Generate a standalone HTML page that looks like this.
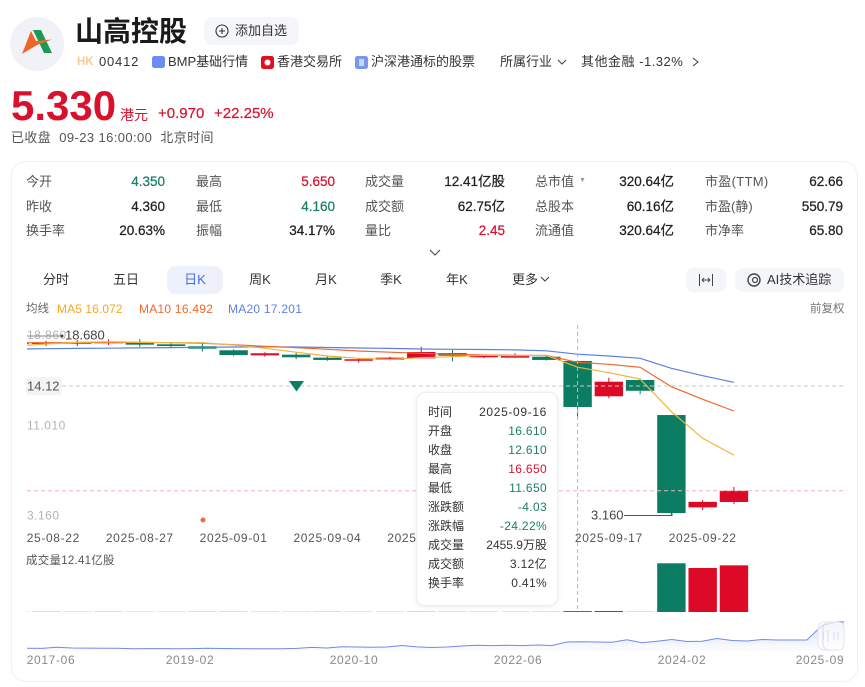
<!DOCTYPE html>
<html lang="zh">
<head>
<meta charset="utf-8">
<title>山高控股</title>
<style>
html,body{margin:0;padding:0;background:#fff;}
#page{position:relative;width:865px;height:687px;overflow:hidden;background:#fff;font-family:"Liberation Sans","Noto Sans CJK SC",sans-serif;color:#222;filter:blur(.3px);}
.t{position:absolute;white-space:nowrap;line-height:20px;height:20px;}
.r{text-align:right;}
.lb{font-size:13px;color:#555;}
.v{font-size:13.5px;color:#222;-webkit-text-stroke:.25px currentColor;}
.tab{font-size:13px;color:#333;text-align:center;transform:translateX(-50%);}
.tl{font-size:12px;color:#333;left:428px;}
.tv{font-size:12px;color:#333;right:318px;text-align:right;letter-spacing:.35px;}
.up{color:#d9112f;}
.dn{color:#1a7f68;}
#chart{position:absolute;left:0;top:0;}
</style>
</head>
<body>
<div id="page">

<svg style="position:absolute;left:0;top:0" width="865" height="90">
  <circle cx="37" cy="44" r="27" fill="#f0f2f7"/>
  <polygon points="33,30 41,30 52,53 44,53" fill="#1c9a55"/>
  <polygon points="31,31 36,41 52,39.5 37,45 22,54" fill="#f0642a"/>
  <rect x="204" y="17" width="95" height="28" rx="8" fill="#f5f6fa"/>
  <circle cx="222" cy="31" r="6" fill="none" stroke="#333" stroke-width="1.1"/>
  <path d="M219 31h6M222 28v6" stroke="#333" stroke-width="1.1"/>
  <rect x="152" y="56" width="13" height="12" rx="2.5" fill="#6b8cf0"/>
  <rect x="261" y="56" width="13" height="13" rx="2.5" fill="#e0101f"/>
  <circle cx="267.500" cy="62.500" r="3" fill="#fff"/>
  <rect x="355" y="56" width="13" height="13" rx="2.5" fill="#7b96ee"/>
  <rect x="359" y="59" width="5" height="7" fill="#c9d6fa"/>
  <path d="M558 60l4 4 4-4" fill="none" stroke="#444" stroke-width="1.1"/>
  <path d="M693 58l5 4-5 4" fill="none" stroke="#444" stroke-width="1.1"/>
</svg>

<div class="t" style="left:75px;top:12px;height:40px;line-height:40px;font-size:28px;font-weight:bold;color:#1a1a1a">山高控股</div>
<div class="t" style="left:235px;top:21px;font-size:13px;color:#333">添加自选</div>
<div class="t" style="left:77px;top:52px;font-size:11.5px;font-weight:bold;color:#f5cd93">HK</div>
<div class="t" style="left:99px;top:52px;font-size:13px;color:#333;letter-spacing:.8px">00412</div>
<div class="t" style="left:168px;top:52px;font-size:13px;color:#333">BMP基础行情</div>
<div class="t" style="left:277px;top:52px;font-size:13px;color:#333">香港交易所</div>
<div class="t" style="left:371px;top:52px;font-size:13px;color:#333">沪深港通标的股票</div>
<div class="t" style="left:500px;top:52px;font-size:13px;color:#333">所属行业</div>
<div class="t" style="left:581px;top:52px;font-size:13px;color:#333;letter-spacing:.5px">其他金融 -1.32%</div>

<div class="t up" style="left:11px;top:81px;height:50px;line-height:50px;font-size:42px;font-weight:bold">5.330</div>
<div class="t up" style="left:120px;top:105px;font-size:14px">港元</div>
<div class="t up" style="left:158px;top:104px;font-size:15px;-webkit-text-stroke:.2px currentColor">+0.970</div>
<div class="t up" style="left:214px;top:104px;font-size:15px;-webkit-text-stroke:.2px currentColor">+22.25%</div>
<div class="t" style="left:11px;top:128px;font-size:13px;color:#555;letter-spacing:.4px">已收盘&nbsp; 09-23 16:00:00&nbsp; 北京时间</div>

<div style="position:absolute;left:11px;top:161px;width:847px;height:521px;border:1px solid #f0f0f3;border-radius:15px;box-sizing:border-box"></div>

<div class="t lb" style="left:26px;top:172px">今开</div>
<div class="t v dn r" style="right:700px;top:172px">4.350</div>
<div class="t lb" style="left:26px;top:197px">昨收</div>
<div class="t v r" style="right:700px;top:197px">4.360</div>
<div class="t lb" style="left:26px;top:221px">换手率</div>
<div class="t v r" style="right:700px;top:221px">20.63%</div>

<div class="t lb" style="left:196px;top:172px">最高</div>
<div class="t v up r" style="right:530px;top:172px">5.650</div>
<div class="t lb" style="left:196px;top:197px">最低</div>
<div class="t v dn r" style="right:530px;top:197px">4.160</div>
<div class="t lb" style="left:196px;top:221px">振幅</div>
<div class="t v r" style="right:530px;top:221px">34.17%</div>

<div class="t lb" style="left:365px;top:172px">成交量</div>
<div class="t v r" style="right:360px;top:172px">12.41亿股</div>
<div class="t lb" style="left:365px;top:197px">成交额</div>
<div class="t v r" style="right:360px;top:197px">62.75亿</div>
<div class="t lb" style="left:365px;top:221px">量比</div>
<div class="t v up r" style="right:360px;top:221px">2.45</div>

<div class="t lb" style="left:535px;top:172px">总市值</div>
<div class="t" style="left:579px;top:171px;font-size:7px;color:#999">▼</div>
<div class="t v r" style="right:191px;top:172px">320.64亿</div>
<div class="t lb" style="left:535px;top:197px">总股本</div>
<div class="t v r" style="right:191px;top:197px">60.16亿</div>
<div class="t lb" style="left:535px;top:221px">流通值</div>
<div class="t v r" style="right:191px;top:221px">320.64亿</div>

<div class="t lb" style="left:705px;top:172px;letter-spacing:.3px">市盈(TTM)</div>
<div class="t v r" style="right:22px;top:172px">62.66</div>
<div class="t lb" style="left:705px;top:197px">市盈(静)</div>
<div class="t v r" style="right:22px;top:197px">550.79</div>
<div class="t lb" style="left:705px;top:221px">市净率</div>
<div class="t v r" style="right:22px;top:221px">65.80</div>

<svg style="position:absolute;left:0;top:240px" width="865" height="60">
  <path d="M430 10l5 5 5-5" fill="none" stroke="#444" stroke-width="1.1"/>
  <rect x="167" y="26" width="56" height="28" rx="9" fill="#eef1fb"/>
  <path d="M541 37l4 4 4-4" fill="none" stroke="#444" stroke-width="1.1"/>
  <rect x="686" y="28" width="40" height="24" rx="7" fill="#f5f6fa"/>
  <path d="M699.500 34v12M712.500 34v12M702 40h8M702 40l2-2M702 40l2 2M710 40l-2-2M710 40l-2 2" fill="none" stroke="#444" stroke-width="1"/>
  <rect x="735" y="28" width="109" height="24" rx="8" fill="#f5f6fa"/>
  <circle cx="754" cy="40" r="6" fill="none" stroke="#444" stroke-width="1.4"/>
  <circle cx="755" cy="40" r="2.500" fill="none" stroke="#444" stroke-width="1.2"/>
</svg>

<div class="t tab" style="left:56px;top:270px">分时</div>
<div class="t tab" style="left:126px;top:270px">五日</div>
<div class="t tab" style="left:195px;top:270px;color:#4a6ee0">日K</div>
<div class="t tab" style="left:260px;top:270px">周K</div>
<div class="t tab" style="left:326px;top:270px">月K</div>
<div class="t tab" style="left:391px;top:270px">季K</div>
<div class="t tab" style="left:457px;top:270px">年K</div>
<div class="t tab" style="left:525px;top:270px">更多</div>
<div class="t" style="left:767px;top:270px;font-size:13px;color:#333">AI技术追踪</div>

<div class="t" style="left:26px;top:299px;font-size:11.5px;color:#666">均线</div>
<div class="t" style="left:57px;top:299px;font-size:12px;color:#f5a623;letter-spacing:.1px">MA5 16.072</div>
<div class="t" style="left:139px;top:299px;font-size:12px;color:#f0682c;letter-spacing:.25px">MA10 16.492</div>
<div class="t" style="left:228px;top:299px;font-size:12px;color:#5b7fe8;letter-spacing:.25px">MA20 17.201</div>
<div class="t" style="left:810px;top:299px;font-size:11.5px;color:#777">前复权</div>

<svg id="chart" width="865" height="687"></svg>

<div style="position:absolute;left:416px;top:392px;width:142px;height:214px;background:#fff;border:1px solid #eeeeee;border-radius:9px;box-shadow:0 1px 5px rgba(0,0,0,.08);box-sizing:border-box"></div>
<div class="t tl" style="top:402px">时间</div>
<div class="t tv" style="top:402px;letter-spacing:.65px">2025-09-16</div>
<div class="t tl" style="top:421px">开盘</div>
<div class="t tv dn" style="top:421px">16.610</div>
<div class="t tl" style="top:440px">收盘</div>
<div class="t tv dn" style="top:440px">12.610</div>
<div class="t tl" style="top:459px">最高</div>
<div class="t tv up" style="top:459px">16.650</div>
<div class="t tl" style="top:478px">最低</div>
<div class="t tv dn" style="top:478px">11.650</div>
<div class="t tl" style="top:497px">涨跌额</div>
<div class="t tv dn" style="top:497px">-4.03</div>
<div class="t tl" style="top:516px">涨跌幅</div>
<div class="t tv dn" style="top:516px">-24.22%</div>
<div class="t tl" style="top:535px">成交量</div>
<div class="t tv" style="top:535px;letter-spacing:0">2455.9万股</div>
<div class="t tl" style="top:554px">成交额</div>
<div class="t tv" style="top:554px">3.12亿</div>
<div class="t tl" style="top:573px">换手率</div>
<div class="t tv" style="top:573px">0.41%</div>
</div>

<script>
const dates = ["2025-08-21","2025-08-22","2025-08-25","2025-08-26","2025-08-27","2025-08-28","2025-08-29","2025-09-01","2025-09-02","2025-09-03","2025-09-04","2025-09-05","2025-09-08","2025-09-09","2025-09-10","2025-09-11","2025-09-12","2025-09-15","2025-09-16","2025-09-17","2025-09-18","2025-09-19","2025-09-22","2025-09-23"];
const opens  = [18.10,18.09,18.11,18.15,18.20,18.06,17.89,17.54,17.10,17.16,16.90,16.63,16.72,16.84,17.30,16.93,16.90,16.98,16.61,13.54,14.96,11.91,3.88,4.35];
const closes = [18.24,18.23,18.24,18.30,18.03,17.91,17.68,17.13,17.28,16.93,16.70,16.76,16.90,17.39,17.07,17.07,17.07,16.70,12.61,14.81,14.02,3.39,4.36,5.33];
const highs  = [18.30,18.37,18.43,18.50,18.50,18.15,18.26,17.63,17.37,17.33,17.07,16.81,16.98,17.85,17.57,17.13,17.28,17.04,16.65,15.16,15.10,11.91,4.52,5.65];
const lows   = [18.00,17.91,17.91,18.00,17.85,17.80,17.42,17.04,16.98,16.76,16.63,16.46,16.67,16.84,16.58,16.87,16.87,16.65,11.65,13.37,13.71,3.16,3.65,4.16];
const ma5  = [17.91,18.09,18.23,18.29,18.23,18.20,18.20,18.00,17.71,17.37,17.04,16.84,16.76,16.90,16.98,17.10,17.07,17.10,16.072,15.59,15.04,12.20,9.89,8.43];
const ma10 = [18.18,18.20,18.22,18.23,18.23,18.20,18.15,18.03,17.89,17.77,17.63,17.48,17.37,17.28,17.19,17.13,17.10,17.09,16.492,16.32,16.06,14.37,13.28,12.26];
const ma20 = [17.65,17.68,17.70,17.72,17.75,17.77,17.80,17.83,17.84,17.83,17.78,17.74,17.70,17.65,17.63,17.61,17.57,17.50,17.201,17.04,16.84,15.97,15.33,14.76];
const volumes = [0.04,0.05,0.04,0.05,0.04,0.04,0.05,0.05,0.04,0.04,0.05,0.04,0.04,0.06,0.05,0.04,0.04,0.05,0.2456,0.25,0.05,12.95,11.70,12.41];
const yTicks = [18.86,11.01,3.16];
const navValues = [0.85,0.8,1.4,1.0,0.95,0.85,0.85,0.65,0.7,0.7,0.65,0.7,0.85,0.75,0.7,0.65,0.6,0.65,0.8,1.3,1.0,1.6,1.5,1.4,1.5,2.25,1.55,1.25,1.5,2,2.35,2.2,2.35,2.2,2.5,2.25,4,4.15,4,3.85,5.1,3.65,4.35,5.25,4.25,4.35,5.75,4.75,4.5,5.25,5,5,5,12.25,14.15,14];
const navLabels = ["2017-06","2019-02","2020-10","2022-06","2024-02","2025-09"];
const navMonths = [0,20,40,60,80,99];

const RED = "#dc0a27", GREEN = "#0a7d63";
const NS = "http://www.w3.org/2000/svg";
const svg = document.getElementById("chart");
const xAt = k => 14.73 + 31.27 * k;
const yPrice = p => (48 - p) * 11.5;
const volH = v => v * 3.76;
const navX = k => 27 + 15 * k;
const navY = v => 650 - v * 2;
const navMonthX = m => Math.min(820, Math.max(51, 26 + 8.2 * m));

function make(tag, attrs, parent) {
  const n = document.createElementNS(NS, tag);
  for (const a in attrs) n.setAttribute(a, attrs[a]);
  (parent || svg).appendChild(n);
  return n;
}
function label(str, x, y, size, fill, anchor, parent, spacing) {
  const n = make("text", {x: x, y: y, "font-size": size, fill: fill, "text-anchor": anchor || "start", "letter-spacing": spacing || 0, "font-family": '"Liberation Sans","Noto Sans CJK SC",sans-serif'}, parent);
  n.textContent = str;
  return n;
}

const defs = make("defs", {});
const clip = make("clipPath", {id: "plot-clip"}, defs);
make("rect", {x: 27, y: 320, width: 817, height: 340}, clip);
const grad = make("linearGradient", {id: "nav-fill", x1: 0, y1: 0, x2: 0, y2: 1}, defs);
make("stop", {offset: "0", "stop-color": "#7d97ee", "stop-opacity": "0.28"}, grad);
make("stop", {offset: "1", "stop-color": "#7d97ee", "stop-opacity": "0.02"}, grad);
const plot = make("g", {"clip-path": "url(#plot-clip)"});

/* y-axis labels */
yTicks.forEach(function (v) {
  const n = label(v.toFixed(3), 27, yPrice(v) + 4, 12, "#b4b4b4", "start", svg, 0.5);
  
  
});

/* candles */
dates.forEach(function (d, k) {
  const col = closes[k] >= opens[k] ? RED : GREEN;
  const x = xAt(k);
  const wick = make("line", {x1: x, x2: x, y1: yPrice(highs[k]), y2: yPrice(lows[k]), stroke: col, "stroke-width": 1}, plot);
  
  
  const top = yPrice(Math.max(opens[k], closes[k]));
  const bot = yPrice(Math.min(opens[k], closes[k]));
  const body = make("rect", {x: x - 14.2, y: top, width: 28.4, height: Math.max(1, bot - top), fill: col}, plot);
  
  
});

/* moving averages */
[[ma20, "#5b7fe8", "ma20-line"], [ma10, "#f0682c", "ma10-line"], [ma5, "#f2b33d", "ma5-line"]].forEach(function (s) {
  const pts = s[0].map((v, k) => xAt(k).toFixed(1) + "," + yPrice(v).toFixed(1)).join(" ");
  const line = make("polyline", {points: pts, fill: "none", stroke: s[1], "stroke-width": 1.2}, plot);
  
  
});

/* volume bars */
volumes.forEach(function (v, k) {
  const col = closes[k] >= opens[k] ? RED : GREEN;
  const h = volH(v);
  const bar = make("rect", {x: xAt(k) - 14.2, y: 612 - h, width: 28.4, height: h, fill: col}, plot);
  
  
});

/* x-axis labels */
dates.forEach(function (d, k) {
  if (k % 3 !== 1) return;
  const n = label(d, xAt(k), 542, 12, "#555", "middle", plot, 0.65);
  
  
});

/* reference lines */
const priceLine = make("line", {x1: 27, x2: 844, y1: yPrice(closes[23]), y2: yPrice(closes[23]), stroke: "#eeb4bb", "stroke-width": 1, "stroke-dasharray": "4 3"});



const crossH = make("line", {x1: 62, x2: 844, y1: 386, y2: 386, stroke: "#c8c8c8", "stroke-width": 1, "stroke-dasharray": "4 3"});



const crossV = make("line", {x1: xAt(18), x2: xAt(18), y1: 325, y2: 612, stroke: "#b9b9b9", "stroke-width": 1, "stroke-dasharray": "4 3"});



const crossBg = make("rect", {x: 26, y: 377, width: 36, height: 18, rx: 4, fill: "#f4f4f4"});



const crossLabel = label("14.12", 27, 390.500, 13, "#555");



/* high / low markers */
const highLine = make("line", {x1: 27, x2: 62, y1: 336, y2: 336, stroke: "#8a8a8a", "stroke-width": 1});



const highDot = make("circle", {cx: 62, cy: 336, r: 1.5, fill: "#444"});



const highLabel = label("18.680", 65, 339.500, 13, "#444");



const lowLine = make("path", {d: "M624 515.500H672V513", fill: "none", stroke: "#555", "stroke-width": 1});



const lowLabel = label("3.160", 591, 519.500, 13, "#444");



const signal = make("polygon", {points: "289,381 304,381 296.500,391.500", fill: GREEN});



const dot = make("circle", {cx: 203, cy: 520, r: 2.5, fill: "#ec6a4c"});



const volTitle = label("成交量12.41亿股", 26, 564, 11.5, "#555", "start", svg, 0.25);



/* navigator */
const navPts = navValues.map((v, k) => navX(k).toFixed(1) + "," + navY(v).toFixed(1));
const navArea = make("polygon", {points: navPts.join(" ") + " " + navX(navValues.length - 1) + ",651 27,651", fill: "url(#nav-fill)"}, plot);



const navLine = make("polyline", {points: navPts.join(" "), fill: "none", stroke: "#6f8bea", "stroke-width": 1}, plot);



navLabels.forEach(function (s, i) {
  const n = label(s, navMonthX(navMonths[i]), 664, 12, "#888", "middle", svg, 0.65);
  
  
});

const win = make("rect", {x: 818, y: 622, width: 26, height: 28, rx: 6, fill: "#ffffff", "fill-opacity": 0.65, stroke: "#e6e6ea", "stroke-width": 1});



const winInner = make("path", {d: "M829 622a6 6 0 0 0-6 6v16a6 6 0 0 0 6 6M823.500 632v8M828 630v12M834 632v8M838 632v8", fill: "none", stroke: "#dcdce2", "stroke-width": 1});


</script>
</body>
</html>
